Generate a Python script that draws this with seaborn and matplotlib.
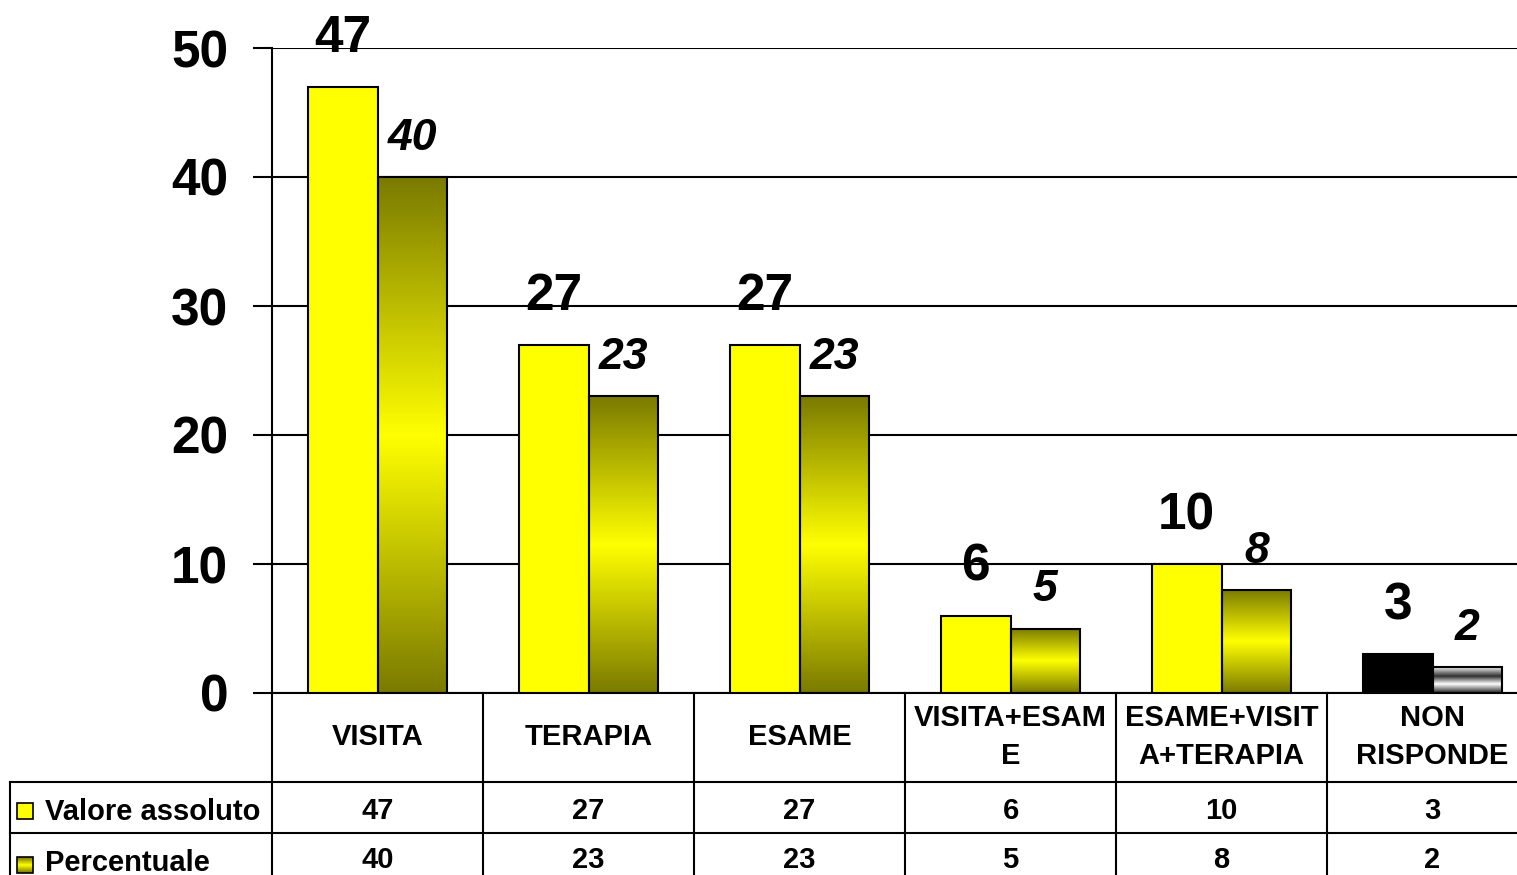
import numpy as np
import pandas as pd
import matplotlib
matplotlib.use('Agg')
import matplotlib.pyplot as plt
import matplotlib.transforms as mtransforms
from matplotlib.colors import LinearSegmentedColormap
from matplotlib.patches import Rectangle
import seaborn as sns

# dati
categorie = ['VISITA', 'TERAPIA', 'ESAME', 'VISITA+ESAME', 'ESAME+VISITA+TERAPIA', 'NON RISPONDE']
etichette = ['VISITA', 'TERAPIA', 'ESAME', 'VISITA+ESAM\nE', 'ESAME+VISIT\nA+TERAPIA', 'NON\nRISPONDE']
valore_assoluto = [47, 27, 27, 6, 10, 3]
percentuale = [40, 23, 23, 5, 8, 2]
serie = ['Valore assoluto', 'Percentuale']

df = pd.DataFrame({
    'categoria': categorie * 2,
    'valore': valore_assoluto + percentuale,
    'serie': [serie[0]] * len(categorie) + [serie[1]] * len(categorie),
})

plt.rcParams['font.family'] = ['Liberation Sans', 'DejaVu Sans']
plt.rcParams['font.weight'] = 'bold'

GIALLO = '#ffff00'
OLIVA = '#7a7a00'
cmap_oliva = LinearSegmentedColormap.from_list('oliva', [OLIVA, GIALLO, OLIVA])
cmap_grigio = LinearSegmentedColormap.from_list(
    'grigio', [(0, '#202020'), (0.35, '#ffffff'), (0.65, '#303030'), (1, '#f0f0f0')])

W, H = 1517, 875
fig = plt.figure(figsize=(W / 100, H / 100), dpi=100)
ax = fig.add_axes([272 / W, 182 / H, 1266 / W, 645 / H])

sns.barplot(data=df, x='categoria', y='valore', hue='serie', palette=[GIALLO, OLIVA],
            width=0.66, saturation=1, edgecolor='black', linewidth=1.5,
            legend=False, ax=ax)

# colori speciali + gradienti
for i, bar in enumerate(ax.containers[0]):
    bar.set_zorder(3)
    if categorie[i] == 'NON RISPONDE':
        bar.set_facecolor('black')
grad = np.linspace(0, 1, 256).reshape(-1, 1)
for i, bar in enumerate(ax.containers[1]):
    x0, w, h = bar.get_x(), bar.get_width(), bar.get_height()
    cm = cmap_grigio if categorie[i] == 'NON RISPONDE' else cmap_oliva
    img = ax.imshow(grad, cmap=cm, extent=(x0, x0 + w, 0, h), aspect='auto',
                    origin='lower', zorder=2)
    img.set_clip_path(bar)
    bar.set_facecolor('none')
    bar.set_zorder(3)

ax.set_xlim(-0.5, 5.5)
ax.set_ylim(0, 50)
ax.set_yticks([0, 10, 20, 30, 40, 50])
ax.set_xticks([])
ax.set_xlabel('')
ax.set_ylabel('')
ax.set_axisbelow(True)
ax.yaxis.grid(True, color='black', linewidth=1.5)
for s in ['top', 'right']:
    ax.spines[s].set_visible(False)
for s in ['left', 'bottom']:
    ax.spines[s].set_linewidth(1.5)
ax.tick_params(axis='y', length=13.5, width=1.5, pad=18, labelsize=37)
for t in ax.get_yticklabels():
    t.set_fontweight('bold')

# etichette sopra le barre
for bar, v in zip(ax.containers[0], valore_assoluto):
    ax.annotate(str(v), (bar.get_x() + bar.get_width() / 2, bar.get_height()),
                xytext=(0, 25), textcoords='offset points', ha='center', va='baseline',
                fontsize=37, fontweight='bold', annotation_clip=False)
for bar, v in zip(ax.containers[1], percentuale):
    ax.annotate(str(v), (bar.get_x() + bar.get_width() / 2, bar.get_height()),
                xytext=(0, 19.5), textcoords='offset points', ha='center', va='baseline',
                fontsize=32, fontweight='bold', fontstyle='italic', annotation_clip=False)

# tabella dati
trans = mtransforms.blended_transform_factory(ax.transData, ax.transAxes)
x_sin = -0.5 - (272 - 10) / 211
y_r1, y_r2, y_fondo = -0.138, -0.217, -0.32
kw = dict(color='black', lw=1.5, transform=trans, clip_on=False)
for k in range(7):
    ax.plot([k - 0.5, k - 0.5], [0, y_fondo], **kw)
ax.plot([x_sin, x_sin], [y_r1, y_fondo], **kw)
for yy in (y_r1, y_r2):
    ax.plot([x_sin, 5.6], [yy, yy], **kw)

fs = 21
for i, lab in enumerate(etichette):
    ax.text(i, -0.068, lab, transform=trans, ha='center', va='center',
            fontsize=fs, fontweight='bold', linespacing=1.45, clip_on=False)
for i, (a, p) in enumerate(zip(valore_assoluto, percentuale)):
    ax.text(i, -0.183, str(a), transform=trans, ha='center', va='center',
            fontsize=fs, fontweight='bold', clip_on=False)
    ax.text(i, -0.259, str(p), transform=trans, ha='center', va='center',
            fontsize=fs, fontweight='bold', clip_on=False)

# chiavi legenda nella tabella
kx0 = -0.5 - (272 - 17) / 211
kw_ = 16 / 211
tx = -0.5 - (272 - 45) / 211
key_y = [(-0.1953, -0.1705), (-0.279, -0.2543)]
ax.add_patch(Rectangle((kx0, key_y[0][0]), kw_, key_y[0][1] - key_y[0][0], transform=trans,
                       facecolor=GIALLO, edgecolor='black', lw=1.2, clip_on=False))
n = 16
y0, y1 = key_y[1]
dh = (y1 - y0) / n
for j in range(n):
    ax.add_patch(Rectangle((kx0, y0 + j * dh), kw_, dh, transform=trans,
                           facecolor=cmap_oliva(j / (n - 1)), edgecolor='none', clip_on=False))
ax.add_patch(Rectangle((kx0, y0), kw_, y1 - y0, transform=trans,
                       facecolor='none', edgecolor='black', lw=1.2, clip_on=False))
for (ya, yb), nome, dy in zip(key_y, serie, (-0.002, 0.003)):
    ax.text(tx, (ya + yb) / 2 + dy, nome, transform=trans, ha='left', va='center',
            fontsize=fs, fontweight='bold', clip_on=False)

fig.savefig('out.png', dpi=100)
plt.close(fig)
